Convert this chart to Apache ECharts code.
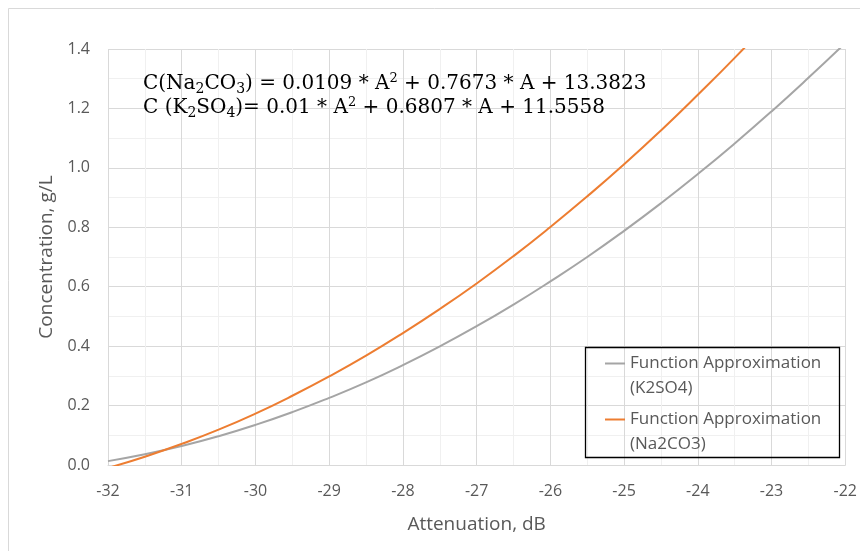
<!DOCTYPE html>
<html>
<head>
<meta charset="utf-8">
<script src="https://cdn.jsdelivr.net/npm/echarts@6/dist/echarts.min.js"></script>
<style>
html,body{margin:0;padding:0;background:#fff;}
#chart{width:860px;height:551px;}
</style>
</head>
<body>
<div id="chart"></div>
<script>
// Attenuation (dB) sample points
const attenuation = [-32,-31.5,-31,-30.5,-30,-29.5,-29,-28.5,-28,-27.5,-27,-26.5,-26,-25.5,-25,-24.5,-24,-23.5,-23,-22.5,-22];
// Concentration, g/L
const k2so4 = [0.013,0.036,0.064,0.097,0.135,0.178,0.226,0.278,0.336,0.399,0.467,0.540,0.618,0.700,0.788,0.881,0.979,1.082,1.190,1.303,1.420];
const na2co3 = [-0.010,0.028,0.071,0.119,0.173,0.233,0.298,0.368,0.444,0.525,0.611,0.703,0.801,0.904,1.012,1.126,1.246,1.370,1.501];
const seriesNames = ['Function Approximation\n(K2SO4)', 'Function Approximation\n(Na2CO3)'];
const xTicks = [-32,-31,-30,-29,-28,-27,-26,-25,-24,-23,-22];
const yTicks = [0,0.2,0.4,0.6,0.8,1.0,1.2,1.4];

const kData = k2so4.map((v,i)=>[attenuation[i], v]);
const nData = na2co3.map((v,i)=>[attenuation[i], v]);

const chart = echarts.init(document.getElementById('chart'), null, {renderer:'canvas'});
const labelColor = '#595959';
const font = '"Open Sans", "Noto Sans", sans-serif';
const serif = '"DejaVu Serif", serif';
const eqRich = {
  n: {fontFamily: serif, fontSize: 20, color: '#000', lineHeight: 24},
  sub: {fontFamily: serif, fontSize: 14, color: '#000', lineHeight: 24, verticalAlign: 'bottom'},
  sup: {fontFamily: serif, fontSize: 13, color: '#000', lineHeight: 24, verticalAlign: 'top'}
};
chart.setOption({
  animation: false,
  backgroundColor: '#ffffff',
  textStyle: {fontFamily: font},
  grid: {left: 108, right: 10, top: 49, bottom: 86, containLabel: false},
  xAxis: {
    type: 'value', min: xTicks[0], max: xTicks[xTicks.length-1], interval: 1,
    name: 'Attenuation, dB', nameLocation: 'middle', nameGap: 50,
    nameTextStyle: {color: labelColor, fontSize: 19, fontFamily: font},
    axisLine: {show: true, lineStyle: {color: '#d9d9d9', width: 1}},
    axisTick: {show: false},
    axisLabel: {color: labelColor, fontSize: 16, margin: 18, fontFamily: font},
    splitLine: {show: true, lineStyle: {color: '#d9d9d9', width: 1}},
    minorTick: {show: false, splitNumber: 2},
    minorSplitLine: {show: true, lineStyle: {color: '#f0f0f0', width: 1}}
  },
  yAxis: {
    type: 'value', min: yTicks[0], max: yTicks[yTicks.length-1], interval: 0.2,
    name: 'Concentration, g/L', nameLocation: 'middle', nameGap: 52,
    nameTextStyle: {color: labelColor, fontSize: 19, fontFamily: font, padding: [0,0,0,0]},
    axisLine: {show: false},
    axisTick: {show: false},
    axisLabel: {color: labelColor, fontSize: 16, margin: 18, fontFamily: font,
      formatter: v => v.toFixed(1)},
    splitLine: {show: true, lineStyle: {color: '#d9d9d9', width: 1}},
    minorTick: {show: false, splitNumber: 2},
    minorSplitLine: {show: true, lineStyle: {color: '#f0f0f0', width: 1}}
  },
  legend: {
    orient: 'vertical', left: 605, top: 326, padding: 0,
    icon: 'rect', itemWidth: 20, itemHeight: 2, itemGap: -19,
    data: seriesNames,
    formatter: name => ' \n' + name,
    textStyle: {color: labelColor, fontSize: 17, fontFamily: font, lineHeight: 25}
  },
  series: [
    {name: seriesNames[0], type: 'line', data: kData, smooth: true, showSymbol: false, symbol: 'none',
     lineStyle: {color: '#a5a5a5', width: 2}, itemStyle: {color: '#a5a5a5'}, clip: true},
    {name: seriesNames[1], type: 'line', data: nData, smooth: true, showSymbol: false, symbol: 'none',
     lineStyle: {color: '#ed7d31', width: 2}, itemStyle: {color: '#ed7d31'}, clip: true}
  ],
  graphic: [
    {type: 'rect', silent: true, shape: {x: 8.5, y: 8.5, width: 900, height: 600},
     style: {fill: 'none', stroke: '#d9d9d9', lineWidth: 1}},
    {type: 'rect', silent: true, z: 1, shape: {x: 585.5, y: 347.5, width: 254, height: 110},
     style: {fill: 'none', stroke: '#000000', lineWidth: 1.3}},
    {type: 'text', left: 143, top: 72, z: 10, silent: true,
     style: {
       text: '{n|C(Na}{sub|2}{n|CO}{sub|3}{n|) = 0.0109 * A}{sup|2}{n| + 0.7673 * A + 13.3823}',
       rich: eqRich
     }},
    {type: 'text', left: 143, top: 96, z: 10, silent: true,
     style: {
       text: '{n|C (K}{sub|2}{n|SO}{sub|4}{n|)= 0.01 * A}{sup|2}{n| + 0.6807 * A + 11.5558}',
       rich: eqRich
     }}
  ]
});
</script>
</body>
</html>
